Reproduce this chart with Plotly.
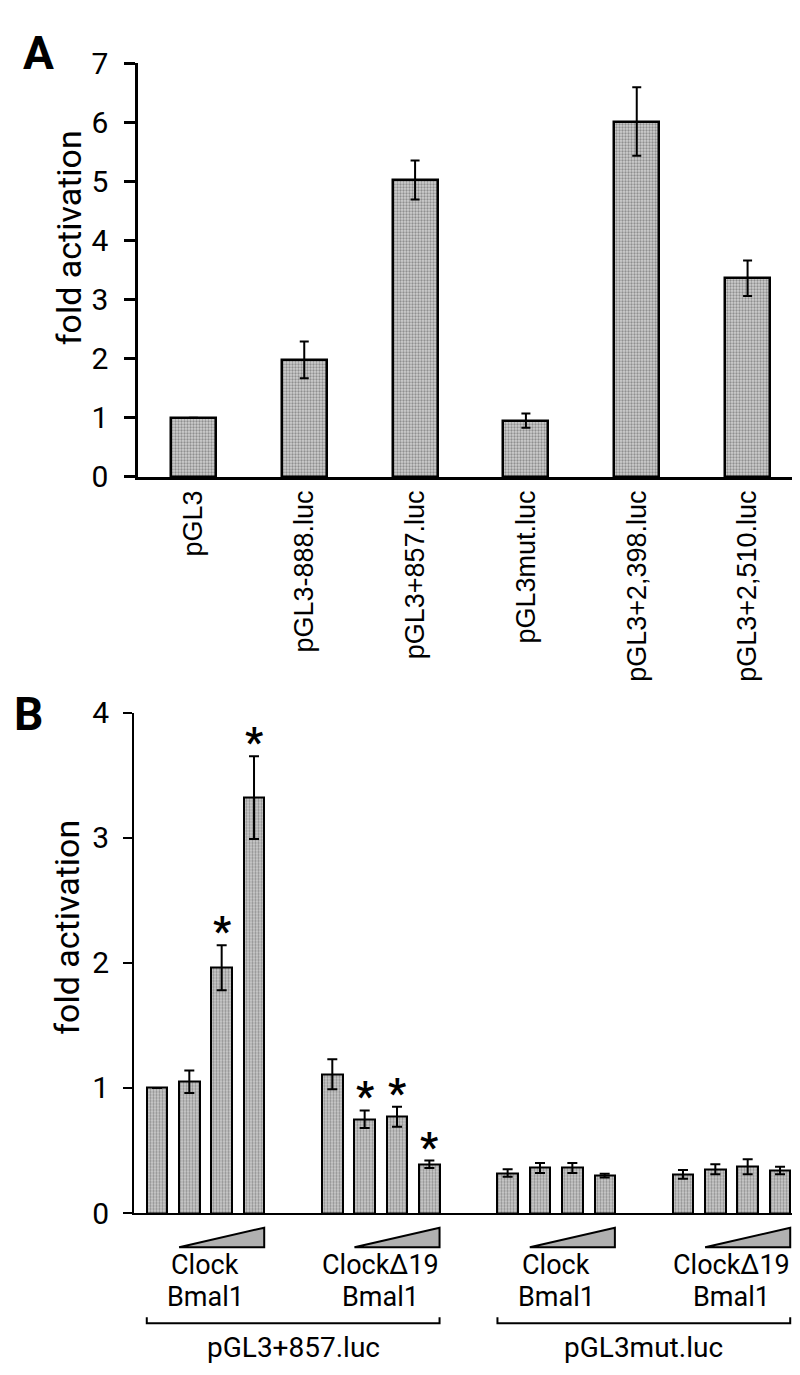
import plotly.graph_objects as go

# Panel A data
a_labels = ['pGL3', 'pGL3-888.luc', 'pGL3+857.luc', 'pGL3mut.luc', 'pGL3+2,398.luc', 'pGL3+2,510.luc']
a_values = [1.0, 1.98, 5.02, 0.95, 6.01, 3.36]
a_errors = [None, 0.31, 0.33, 0.12, 0.58, 0.30]
a_ticks = [0, 1, 2, 3, 4, 5, 6, 7]

# Panel B data (4 groups x 4 doses)
b_names = ['Clock', 'Clock\u039419', 'Clock', 'Clock\u039419']
b_partner = 'Bmal1'
b_values = [[1.0, 1.05, 1.96, 3.32],
            [1.11, 0.75, 0.77, 0.39],
            [0.32, 0.36, 0.36, 0.30],
            [0.31, 0.35, 0.37, 0.34]]
b_errors = [[None, 0.09, 0.18, 0.33],
            [0.12, 0.07, 0.08, 0.03],
            [0.03, 0.04, 0.04, 0.015],
            [0.035, 0.04, 0.06, 0.03]]
b_stars = [[0, 0, 1, 1],
           [0, 1, 1, 1],
           [0, 0, 0, 0],
           [0, 0, 0, 0]]
b_reporters = ['pGL3+857.luc', 'pGL3mut.luc']
b_ticks = [0, 1, 2, 3, 4]

W, H = 800, 1375
GROUP_STEP = 5.42   # distance between groups, in bar spacings
BW = 0.63           # bar width in panel B

FILL = dict(color='#b0b0b0',
            pattern=dict(shape='.', fgcolor='#505050', bgcolor='#cfcfcf', size=3, solidity=0.45))
NUM_FONT = dict(family='Roboto', size=30, color='black')
LBL_FONT = dict(family='Roboto', size=27, color='black')


def px_x(p):
    return p / W


def px_y(p):
    return 1 - p / H


def paper_text(x, y, text, size, angle=0):
    return dict(x=px_x(x), y=px_y(y), xref='paper', yref='paper', text=text,
                textangle=angle, showarrow=False, xanchor='center', yanchor='middle',
                font=dict(family='Roboto', size=size, color='black'))


def b_text(x, y, text, size=27):
    return dict(x=x, y=px_y(y), xref='x2', yref='paper', text=text, showarrow=False,
                xanchor='center', yanchor='middle',
                font=dict(family='Roboto', size=size, color='black'))


fig = go.Figure()

# Panel A
fig.add_trace(go.Bar(
    x=a_labels, y=a_values, width=0.405,
    marker=dict(line=dict(color='black', width=2.5), **FILL),
    error_y=dict(type='data', array=a_errors, color='black', thickness=2, width=4.5),
    xaxis='x', yaxis='y', showlegend=False,
))

# Panel B
b_x, b_y, b_e = [], [], []
for g in range(len(b_values)):
    for i in range(len(b_values[g])):
        b_x.append(g * GROUP_STEP + i)
        b_y.append(b_values[g][i])
        b_e.append(b_errors[g][i])

fig.add_trace(go.Bar(
    x=b_x, y=b_y, width=BW,
    marker=dict(line=dict(color='black', width=2), **FILL),
    error_y=dict(type='data', array=b_e, color='black', thickness=2, width=5),
    xaxis='x2', yaxis='y2', showlegend=False,
))

annotations = []
shapes = []

# significance stars
for g in range(len(b_values)):
    for i in range(len(b_values[g])):
        if b_stars[g][i]:
            top = b_values[g][i] + (b_errors[g][i] or 0)
            annotations.append(dict(x=g * GROUP_STEP + i, y=top, xref='x2', yref='y2',
                                    text='<b>*</b>', showarrow=False, xanchor='center',
                                    yanchor='bottom', yshift=-12,
                                    font=dict(family='Roboto', size=40, color='black')))

# dose wedges and group labels
for g in range(len(b_values)):
    x0 = g * GROUP_STEP + 1 - BW / 2
    x1 = g * GROUP_STEP + 3 + BW / 2
    shapes.append(dict(type='path', xref='x2', yref='paper',
                       path=f'M {x0},{px_y(1254)} L {x1},{px_y(1254)} L {x1},{px_y(1234)} Z',
                       fillcolor='#b0b0b0', line=dict(color='black', width=2)))
    xc = g * GROUP_STEP + 1.5
    annotations.append(b_text(xc, 1272, b_names[g]))
    annotations.append(b_text(xc, 1305, b_partner))

# reporter brackets
for r in range(len(b_reporters)):
    x0 = 2 * r * GROUP_STEP - BW / 2
    x1 = (2 * r + 1) * GROUP_STEP + 3 + BW / 2
    shapes.append(dict(type='path', xref='x2', yref='paper',
                       path=f'M {x0},{px_y(1326)} L {x0},{px_y(1332)} L {x1},{px_y(1332)} L {x1},{px_y(1326)}',
                       line=dict(color='black', width=2)))
    annotations.append(b_text((x0 + x1) / 2, 1357, b_reporters[r], 28))

# panel letters and y titles
annotations.append(paper_text(30, 28, '<b>A</b>', 46))
annotations.append(paper_text(20, 706, '<b>B</b>', 46))
annotations.append(paper_text(61, 218, 'fold activation', 34, -90))
annotations.append(paper_text(59, 926, 'fold activation', 34, -90))

fig.update_layout(
    width=W, height=H,
    margin=dict(l=0, r=0, t=0, b=0),
    plot_bgcolor='white', paper_bgcolor='white',
    bargap=0,
    xaxis=dict(domain=[px_x(130), px_x(795)], anchor='y', range=[-0.5, 5.5],
               showline=True, linecolor='black', linewidth=2.5, ticks='', tickangle=-90,
               tickfont=dict(family='Liberation Sans', size=27, color='black'),
               showgrid=False, zeroline=False),
    yaxis=dict(domain=[px_y(463), px_y(38)], anchor='x', range=[0, 7], tickvals=a_ticks,
               showline=True, linecolor='black', linewidth=2.5, ticks='outside', ticklen=11,
               tickwidth=2.5, tickcolor='black', tickfont=NUM_FONT, ticklabelstandoff=10,
               showgrid=False, zeroline=False),
    xaxis2=dict(domain=[px_x(126), px_x(795)], anchor='y2', range=[-0.71, 19.97],
                showline=True, linecolor='black', linewidth=2, showticklabels=False, ticks='',
                showgrid=False, zeroline=False),
    yaxis2=dict(domain=[px_y(1219), px_y(705)], anchor='x2', range=[0, 4], tickvals=b_ticks,
                showline=True, linecolor='black', linewidth=2, ticks='outside', ticklen=9,
                tickwidth=2, tickcolor='black', tickfont=NUM_FONT, ticklabelstandoff=8,
                showgrid=False, zeroline=False),
    annotations=annotations,
    shapes=shapes,
)

fig.write_html('out.html')
